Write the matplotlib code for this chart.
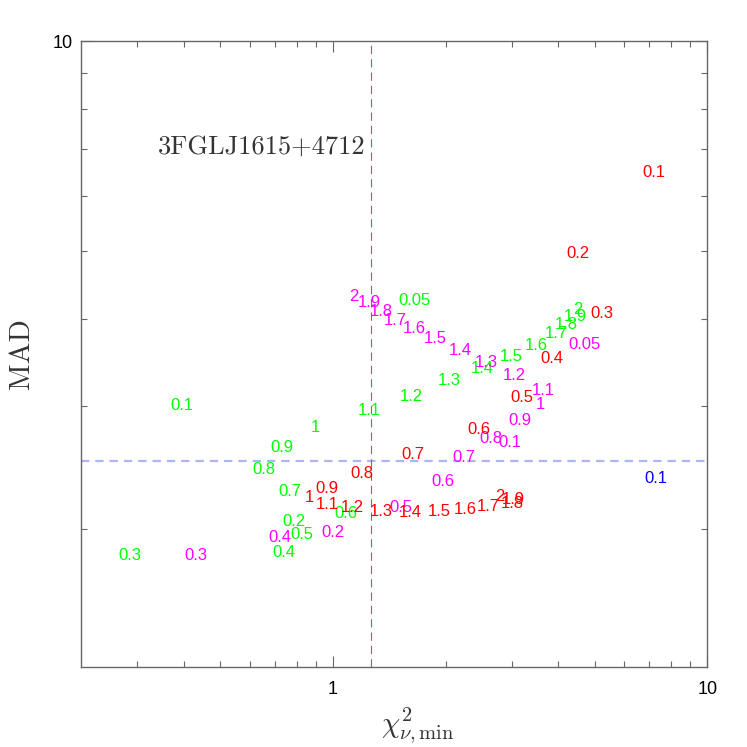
import matplotlib
matplotlib.use("Agg")
import matplotlib.pyplot as plt
from matplotlib.ticker import FixedLocator, FixedFormatter, NullFormatter

plt.rcParams['lines.scale_dashes'] = False
plt.rcParams['mathtext.fontset'] = 'cm'

labels = ["0.05", "0.1", "0.2", "0.3", "0.4", "0.5", "0.6", "0.7", "0.8", "0.9",
          "1", "1.1", "1.2", "1.3", "1.4", "1.5", "1.6", "1.7", "1.8", "1.9", "2"]

green_x = [1.654, 0.394, 0.785, 0.286, 0.738, 0.825, 1.081, 0.766, 0.653, 0.729,
           0.899, 1.246, 1.623, 2.039, 2.498, 2.987, 3.483, 3.939, 4.190, 4.429, 4.511]
green_y = [4.255, 3.000, 2.052, 1.829, 1.848, 1.960, 2.101, 2.266, 2.429, 2.620,
           2.790, 2.960, 3.100, 3.258, 3.390, 3.526, 3.668, 3.804, 3.919, 4.024, 4.130]

magenta_x = [4.710, 2.969, 0.998, 0.430, 0.720, 1.517, 1.965, 2.236, 2.641, 3.157,
             3.570, 3.637, 3.043, 2.560, 2.182, 1.871, 1.643, 1.462, 1.341, 1.246, 1.136]
magenta_y = [3.680, 2.655, 1.973, 1.829, 1.947, 2.143, 2.342, 2.527, 2.691, 2.855,
             3.019, 3.162, 3.312, 3.468, 3.597, 3.742, 3.868, 3.972, 4.091, 4.214, 4.311]

red_labels = labels[1:]
red_x = [7.203, 4.511, 5.230, 3.844, 3.196, 2.453, 1.633, 1.193, 0.962,
         0.866, 0.962, 1.129, 1.341, 1.603, 1.918, 2.250, 2.592, 3.005, 3.024, 2.791]
red_y = [6.470, 4.953, 4.076, 3.503, 3.080, 2.780, 2.552, 2.397, 2.282,
         2.215, 2.164, 2.143, 2.115, 2.108, 2.115, 2.129, 2.150, 2.178, 2.207, 2.222]

blue_labels = ["0.1"]
blue_x = [7.292]
blue_y = [2.358]

mad_ref = 2.5
chi_ref = 1.265
source_name = "3FGLJ1615+4712"
source_pos = (0.645, 7.05)

fig = plt.figure(figsize=(7.47, 7.47), dpi=100)
ax = fig.add_axes([0.1084, 0.1071, 0.8385, 0.838])
ax.set_xscale('log')
ax.set_yscale('log')
ax.set_xlim(0.212, 10)
ax.set_ylim(1.268, 10)

font_lbl = dict(family='Liberation Sans', fontsize=12, ha='center', va='center')
for xs, ys, labs, col in [(green_x, green_y, labels, '#00ff00'),
                          (magenta_x, magenta_y, labels, '#ff00ff'),
                          (red_x, red_y, red_labels, '#ff0000'),
                          (blue_x, blue_y, blue_labels, '#0000ff')]:
    for x, y, t in zip(xs, ys, labs):
        ax.text(x, y, t, color=col, **font_lbl)

ax.axhline(mad_ref, color='#b0b4f4', lw=1.6, dashes=(6, 4.3))
ax.axvline(chi_ref, color='#c05060', lw=0.8, dashes=(6, 3.6))

ax.text(source_pos[0], source_pos[1], source_name, family='cmr10', fontsize=19,
        color='#333333', ha='center', va='center')

# ticks
ax.xaxis.set_major_locator(FixedLocator([1, 10]))
ax.xaxis.set_major_formatter(FixedFormatter(['1', '10']))
ax.xaxis.set_minor_locator(FixedLocator([0.3, 0.4, 0.5, 0.6, 0.7, 0.8, 0.9,
                                         2, 3, 4, 5, 6, 7, 8, 9]))
ax.xaxis.set_minor_formatter(NullFormatter())
ax.yaxis.set_major_locator(FixedLocator([10]))
ax.yaxis.set_major_formatter(FixedFormatter(['10']))
ax.yaxis.set_minor_locator(FixedLocator([2, 3, 4, 5, 6, 7, 8, 9]))
ax.yaxis.set_minor_formatter(NullFormatter())

ax.tick_params(which='both', direction='in', top=True, right=True,
               color='#666666', width=0.8)
ax.tick_params(which='major', length=8)
ax.tick_params(which='minor', length=4.5)
ax.tick_params(axis='x', which='major', pad=10, labelsize=13)
ax.tick_params(axis='y', which='major', pad=6, labelsize=13)
for lab in ax.get_xticklabels() + ax.get_yticklabels():
    lab.set_family('Liberation Sans')

for sp in ax.spines.values():
    sp.set_color('#666666')
    sp.set_linewidth(1.0)

ax.set_xlabel(r'$\chi^2_{\nu,\mathrm{min}}$', fontsize=21, color='#333333')
ax.xaxis.set_label_coords(0.537, -0.062)
ax.set_ylabel('MAD', family='cmr10', fontsize=21, color='#333333')
ax.yaxis.set_label_coords(-0.073, 0.5)

fig.savefig('out.png', dpi=100)
